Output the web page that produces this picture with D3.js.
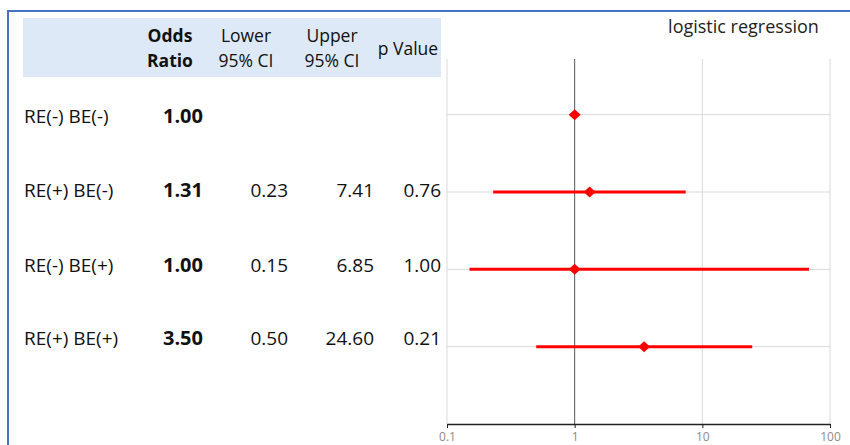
<!DOCTYPE html>
<html>
<head>
<meta charset="utf-8">
<script src="https://cdn.jsdelivr.net/npm/d3@7"></script>
<style>
  html, body { margin: 0; padding: 0; background: #fff; }
  svg { display: block; }
</style>
</head>
<body>
<svg id="chart" width="850" height="445"></svg>
<script>
// ---- data ----
const groups = ["RE(-) BE(-)", "RE(+) BE(-)", "RE(-) BE(+)", "RE(+) BE(+)"];
const oddsRatio = [1.00, 1.31, 1.00, 3.50];
const lowerCI = [null, 0.23, 0.15, 0.50];
const upperCI = [null, 7.41, 6.85, 24.60];
const pValue = [null, 0.76, 1.00, 0.21];
// upper bar ends as plotted in the figure (third bar drawn to ~68.5)
const upperPlotted = [null, 7.41, 68.5, 24.60];
const xTicks = [0.1, 1, 10, 100];
const headers = [["Odds", "Ratio"], ["Lower", "95% CI"], ["Upper", "95% CI"], ["p Value"]];
const title = "logistic regression";

const svg = d3.select("#chart");
const FONT = "'Open Sans', 'Noto Sans', sans-serif";

// frame
svg.append("line").attr("x1", 7).attr("x2", 850).attr("y1", 11).attr("y2", 11)
  .attr("stroke", "#4472c4").attr("stroke-width", 2);
svg.append("line").attr("x1", 8).attr("x2", 8).attr("y1", 10).attr("y2", 445)
  .attr("stroke", "#4472c4").attr("stroke-width", 2);

// table header background
svg.append("rect").attr("x", 23).attr("y", 18).attr("width", 418).attr("height", 59)
  .attr("fill", "#dde9f6");

// header text
const headX = [170, 246, 332, 408];
headers.forEach((h, i) => {
  const t = svg.append("text").attr("font-family", FONT).attr("font-size", 17.5)
    .attr("fill", "#111").attr("text-anchor", "middle")
    .attr("font-weight", i === 0 ? "bold" : "normal");
  if (h.length === 2) {
    t.append("tspan").attr("x", headX[i]).attr("y", 42).text(h[0]);
    t.append("tspan").attr("x", headX[i]).attr("y", 67).text(h[1]);
  } else {
    t.append("tspan").attr("x", headX[i]).attr("y", 55).text(h[0]);
  }
});

// table rows
const rowY = [116, 190, 265, 338];
const fmt = d3.format(".2f");
groups.forEach((g, i) => {
  const y = rowY[i] + 6.5;
  const base = (fs) => svg.append("text").attr("font-family", FONT).attr("font-size", fs || 19)
    .attr("fill", "#111").attr("y", y);
  base().attr("x", 24).text(g);
  base(20).attr("x", 203).attr("text-anchor", "end").attr("font-weight", "bold").text(fmt(oddsRatio[i]));
  if (lowerCI[i] != null) base().attr("x", 288).attr("text-anchor", "end").text(fmt(lowerCI[i]));
  if (upperCI[i] != null) base().attr("x", 374).attr("text-anchor", "end").text(fmt(upperCI[i]));
  if (pValue[i] != null) base().attr("x", 441).attr("text-anchor", "end").text(fmt(pValue[i]));
});

// forest plot
const x = d3.scaleLog().domain([0.1, 100]).range([447, 830]);
const y = d3.scaleLinear().domain([-0.72, 4]).range([59, 424]);

// title
svg.append("text").attr("x", 743.5).attr("y", 33).attr("text-anchor", "middle")
  .attr("font-family", FONT).attr("font-size", 18).attr("fill", "#222").text(title);

// vertical gridlines
svg.append("g").selectAll("line").data(xTicks).join("line")
  .attr("x1", d => x(d)).attr("x2", d => x(d))
  .attr("y1", y(-0.72)).attr("y2", y(4))
  .attr("stroke", d => d === 1 ? "#555" : "#d9d9d9").attr("stroke-width", 1);

// horizontal gridlines
svg.append("g").selectAll("line").data(groups).join("line")
  .attr("x1", x(0.1)).attr("x2", x(100))
  .attr("y1", (d, i) => y(i)).attr("y2", (d, i) => y(i))
  .attr("stroke", "#d9d9d9").attr("stroke-width", 1);

// x axis
const axis = svg.append("g").attr("transform", `translate(0,${y(4)})`)
  .call(d3.axisBottom(x).tickValues(xTicks).tickFormat(d => String(d)).tickSize(4).tickSizeOuter(0));
axis.select(".domain").attr("stroke", "#222").attr("stroke-width", 1.5);
axis.selectAll(".tick line").attr("stroke", "#222");
axis.selectAll(".tick text").attr("font-family", FONT).attr("font-size", 12)
  .attr("fill", "#8c8c8c").attr("dy", "0.8em");

// CI bars
const idx = groups.map((g, i) => i).filter(i => lowerCI[i] != null);
svg.append("g").selectAll("line").data(idx).join("line")
  .attr("x1", i => x(lowerCI[i])).attr("x2", i => x(upperPlotted[i]))
  .attr("y1", i => y(i)).attr("y2", i => y(i))
  .attr("stroke", "#ff0000").attr("stroke-width", 3);

// diamonds
svg.append("g").selectAll("path").data(groups.map((g, i) => i)).join("path")
  .attr("d", i => {
    const cx = x(oddsRatio[i]), cy = y(i);
    return `M${cx - 6},${cy} L${cx},${cy - 5.5} L${cx + 6},${cy} L${cx},${cy + 5.5} Z`;
  })
  .attr("fill", "#ff0000");
</script>
</body>
</html>
